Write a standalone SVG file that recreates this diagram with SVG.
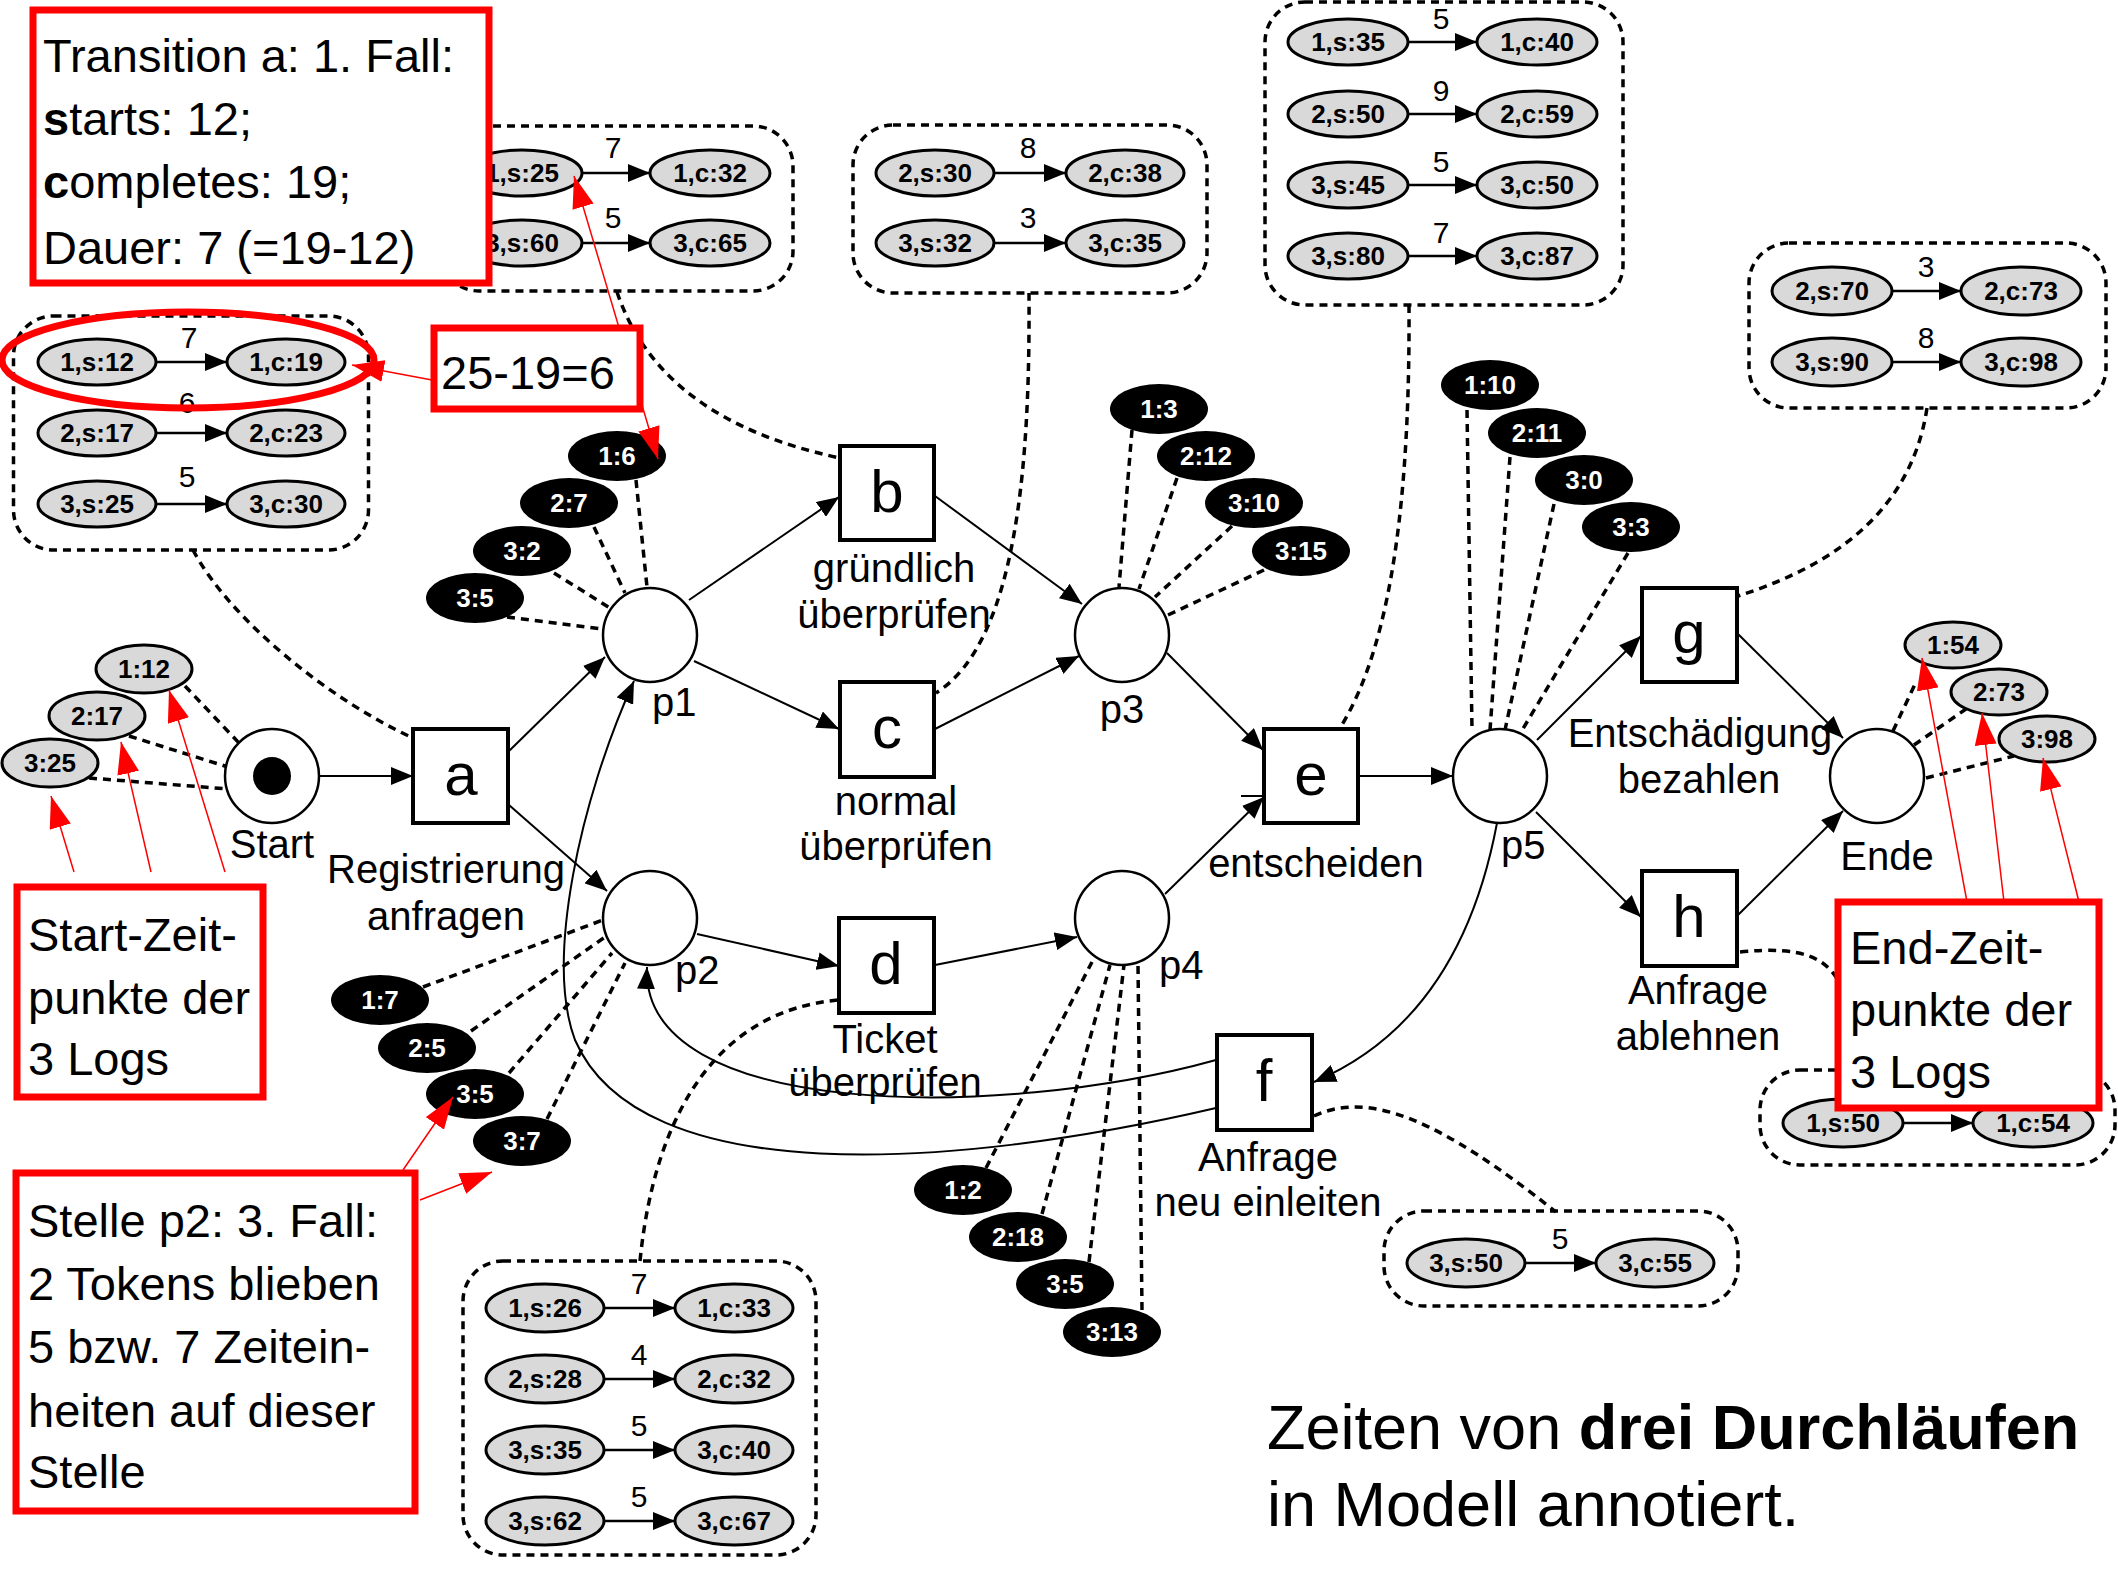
<svg xmlns="http://www.w3.org/2000/svg" width="2118" height="1587" viewBox="0 0 2118 1587">
  <defs>
    <marker id="ah" markerUnits="userSpaceOnUse" markerWidth="22" markerHeight="18" refX="22" refY="9" orient="auto">
      <path d="M0,0 L22,9 L0,18 z" fill="#000"/>
    </marker>
    <marker id="ahs" markerUnits="userSpaceOnUse" markerWidth="22" markerHeight="18" refX="22" refY="9" orient="auto">
      <path d="M0,0 L22,9 L0,18 z" fill="#000"/>
    </marker>
    <marker id="rah" markerUnits="userSpaceOnUse" markerWidth="32" markerHeight="22" refX="32" refY="11" orient="auto-start-reverse">
      <path d="M0,0 L32,11 L0,22 z" fill="#f00"/>
    </marker>
  </defs>
  <style>
    text { font-family: "Liberation Sans", Arial, sans-serif; }
    .arc { fill: none; stroke: #000; stroke-width: 2; marker-end: url(#ah); }
    .dl { fill: none; stroke: #000; stroke-width: 3.5; stroke-dasharray: 8 6; }
    .box { fill: none; stroke: #000; stroke-width: 3.5; stroke-dasharray: 8 6; }
    .tr { fill: #fff; stroke: #000; stroke-width: 4; }
    .pl { fill: #fff; stroke: #000; stroke-width: 2.5; }
    .ltr { font-size: 60px; text-anchor: middle; }
    .lbl { font-size: 40px; text-anchor: middle; }
    .lbs { font-size: 40px; }
    .ge { fill: #d9d9d9; stroke: #000; stroke-width: 3; }
    .gt { font-size: 26px; font-weight: bold; text-anchor: middle; fill: #000; }
    .be { fill: #000; }
    .bt { font-size: 26px; font-weight: bold; text-anchor: middle; fill: #fff; }
    .ia { stroke: #000; stroke-width: 2.5; marker-end: url(#ahs); }
    .num { font-size: 30px; text-anchor: middle; }
    .rbox { fill: #fff; stroke: #f00; stroke-width: 7; }
    .rl { fill: none; stroke: #f00; stroke-width: 1.5; marker-end: url(#rah); }
    .note { font-size: 47px; }
    .title { font-size: 63px; }
  </style>
  <rect width="2118" height="1587" fill="#fff"/>

  <!-- dashed links from log boxes and tokens to their nodes -->
  <g id="annotation-links">
    <path class="dl" d="M193,550 C230,620 330,700 413,738"/>
    <path class="dl" d="M617,292 Q660,420 840,458"/>
    <path class="dl" d="M1029,293 C1030,450 1020,640 936,693"/>
    <path class="dl" d="M1409,305 C1410,480 1395,640 1340,728"/>
    <path class="dl" d="M1927,408 C1910,520 1820,570 1738,596"/>
    <path class="dl" d="M1740,952 C1800,946 1835,955 1845,1000"/>
    <path class="dl" d="M1314,1116 C1370,1090 1440,1120 1556,1212"/>
    <path class="dl" d="M640,1261 C655,1110 720,1010 839,1000"/>
    <!-- token leaders -->
    <path class="dl" d="M185,686 L239,743 M129,736 L228,767 M89,778 L228,789"/>
    <path class="dl" d="M1893,731 L1916,682 M1914,745 L1966,709 M1926,778 L2014,756"/>
    <path class="dl" d="M636,480 L647,587 M594,527 L625,593 M554,573 L610,608 M507,617 L603,629"/>
    <path class="dl" d="M423,987 L603,920 M471,1031 L605,937 M509,1073 L612,953 M547,1119 L625,963"/>
    <path class="dl" d="M1132,430 L1119,587 M1177,478 L1139,589 M1232,526 L1155,597 M1264,570 L1168,615"/>
    <path class="dl" d="M986,1168 L1092,962 M1042,1214 L1110,965 M1089,1262 L1124,965 M1142,1310 L1138,965"/>
    <path class="dl" d="M1467,410 L1472,730 M1510,457 L1490,730 M1554,504 L1505,730 M1628,553 L1521,732"/>
  </g>

  <!-- arcs of the net -->
  <g id="connectors">
    <path class="arc" d="M319,776 L413,776"/>
    <path class="arc" d="M509,751 L605,657"/>
    <path class="arc" d="M509,805 L607,891"/>
    <path class="arc" d="M689,600 L839,497"/>
    <path class="arc" d="M694,661 L839,729"/>
    <path class="arc" d="M935,496 L1082,604"/>
    <path class="arc" d="M935,729 L1079,656"/>
    <path class="arc" d="M697,934 L839,966"/>
    <path class="arc" d="M935,965 L1077,937"/>
    <path class="arc" d="M1167,653 L1263,750"/>
    <path class="arc" d="M1165,894 L1264,797"/>
    <path d="M1241,796 L1263,796" stroke="#000" stroke-width="2"/>
    <path class="arc" d="M1359,776 L1453,776"/>
    <path class="arc" d="M1537,740 L1641,636"/>
    <path class="arc" d="M1536,812 L1641,917"/>
    <path class="arc" d="M1738,634 L1843,738"/>
    <path class="arc" d="M1738,915 L1843,811"/>
    <path class="arc" d="M1497,823 Q1460,1020 1314,1082"/>
    <path class="arc" d="M1216,1060 C1000,1120 640,1120 647,967"/>
    <path class="arc" d="M1216,1108 C950,1170 640,1190 575,1040 C545,960 580,800 634,681"/>
  </g>

  <!-- places -->
  <g id="Start"><circle class="pl" cx="272" cy="776" r="47"/><circle cx="272" cy="776" r="19" fill="#000"/><text class="lbl" x="272" y="858">Start</text></g>
  <g id="p1"><circle class="pl" cx="650" cy="635" r="47"/><text class="lbs" x="652" y="716">p1</text></g>
  <g id="p2"><circle class="pl" cx="650" cy="918" r="47"/><text class="lbs" x="675" y="984">p2</text></g>
  <g id="p3"><circle class="pl" cx="1122" cy="635" r="47"/><text class="lbl" x="1122" y="723">p3</text></g>
  <g id="p4"><circle class="pl" cx="1122" cy="918" r="47"/><text class="lbs" x="1159" y="979">p4</text></g>
  <g id="p5"><circle class="pl" cx="1500" cy="776" r="47"/><text class="lbs" x="1501" y="859">p5</text></g>
  <g id="Ende"><circle class="pl" cx="1877" cy="776" r="47"/><text class="lbl" x="1887" y="870">Ende</text></g>

  <!-- transitions -->
  <g id="a"><rect class="tr" x="413" y="729" width="95" height="94"/><text class="ltr" x="461" y="795">a</text>
    <text class="lbl" x="446" y="883">Registrierung</text><text class="lbl" x="446" y="930">anfragen</text></g>
  <g id="b"><rect class="tr" x="840" y="446" width="94" height="94"/><text class="ltr" x="887" y="512">b</text>
    <text class="lbl" x="894" y="582">gründlich</text><text class="lbl" x="894" y="628">überprüfen</text></g>
  <g id="c"><rect class="tr" x="840" y="682" width="94" height="95"/><text class="ltr" x="887" y="748">c</text>
    <text class="lbl" x="896" y="815">normal</text><text class="lbl" x="896" y="860">überprüfen</text></g>
  <g id="d"><rect class="tr" x="839" y="918" width="95" height="95"/><text class="ltr" x="886" y="984">d</text>
    <text class="lbl" x="885" y="1053">Ticket</text><text class="lbl" x="885" y="1096">überprüfen</text></g>
  <g id="e"><rect class="tr" x="1264" y="729" width="94" height="94"/><text class="ltr" x="1311" y="795">e</text>
    <text class="lbl" x="1316" y="877">entscheiden</text></g>
  <g id="f"><rect class="tr" x="1217" y="1035" width="95" height="95"/><text class="ltr" x="1264" y="1101">f</text>
    <text class="lbl" x="1268" y="1171">Anfrage</text><text class="lbl" x="1268" y="1216">neu einleiten</text></g>
  <g id="g"><rect class="tr" x="1642" y="588" width="95" height="94"/><text class="ltr" x="1689" y="653">g</text>
    <text class="lbl" x="1700" y="747">Entschädigung</text><text class="lbl" x="1699" y="793">bezahlen</text></g>
  <g id="h"><rect class="tr" x="1642" y="871" width="95" height="95"/><text class="ltr" x="1689" y="937">h</text>
    <text class="lbl" x="1698" y="1004">Anfrage</text><text class="lbl" x="1698" y="1050">ablehnen</text></g>

  <!-- start and end timestamps -->
  <g id="start-times">
    <ellipse class="ge" cx="144" cy="669" rx="48" ry="24"/><text class="gt" x="144" y="678">1:12</text>
    <ellipse class="ge" cx="97" cy="716" rx="48" ry="24"/><text class="gt" x="97" y="725">2:17</text>
    <ellipse class="ge" cx="50" cy="763" rx="48" ry="24"/><text class="gt" x="50" y="772">3:25</text>
  </g>
  <g id="end-times">
    <ellipse class="ge" cx="1953" cy="645" rx="48" ry="23"/><text class="gt" x="1953" y="654">1:54</text>
    <ellipse class="ge" cx="1999" cy="692" rx="48" ry="23"/><text class="gt" x="1999" y="701">2:73</text>
    <ellipse class="ge" cx="2047" cy="739" rx="48" ry="23"/><text class="gt" x="2047" y="748">3:98</text>
  </g>

  <!-- waiting times of tokens per place -->
  <g id="tokens-p1">
    <ellipse class="be" cx="617" cy="456" rx="49" ry="25"/><text class="bt" x="617" y="465">1:6</text>
    <ellipse class="be" cx="569" cy="503" rx="49" ry="25"/><text class="bt" x="569" y="512">2:7</text>
    <ellipse class="be" cx="522" cy="551" rx="49" ry="25"/><text class="bt" x="522" y="560">3:2</text>
    <ellipse class="be" cx="475" cy="598" rx="49" ry="25"/><text class="bt" x="475" y="607">3:5</text>
  </g>
  <g id="tokens-p2">
    <ellipse class="be" cx="380" cy="1000" rx="49" ry="25"/><text class="bt" x="380" y="1009">1:7</text>
    <ellipse class="be" cx="427" cy="1048" rx="49" ry="25"/><text class="bt" x="427" y="1057">2:5</text>
    <ellipse class="be" cx="475" cy="1094" rx="49" ry="25"/><text class="bt" x="475" y="1103">3:5</text>
    <ellipse class="be" cx="522" cy="1141" rx="49" ry="25"/><text class="bt" x="522" y="1150">3:7</text>
  </g>
  <g id="tokens-p3">
    <ellipse class="be" cx="1159" cy="409" rx="49" ry="25"/><text class="bt" x="1159" y="418">1:3</text>
    <ellipse class="be" cx="1206" cy="456" rx="49" ry="25"/><text class="bt" x="1206" y="465">2:12</text>
    <ellipse class="be" cx="1254" cy="503" rx="49" ry="25"/><text class="bt" x="1254" y="512">3:10</text>
    <ellipse class="be" cx="1301" cy="551" rx="49" ry="25"/><text class="bt" x="1301" y="560">3:15</text>
  </g>
  <g id="tokens-p4">
    <ellipse class="be" cx="963" cy="1190" rx="49" ry="25"/><text class="bt" x="963" y="1199">1:2</text>
    <ellipse class="be" cx="1018" cy="1237" rx="49" ry="25"/><text class="bt" x="1018" y="1246">2:18</text>
    <ellipse class="be" cx="1065" cy="1284" rx="49" ry="25"/><text class="bt" x="1065" y="1293">3:5</text>
    <ellipse class="be" cx="1112" cy="1332" rx="49" ry="25"/><text class="bt" x="1112" y="1341">3:13</text>
  </g>
  <g id="tokens-p5">
    <ellipse class="be" cx="1490" cy="385" rx="49" ry="25"/><text class="bt" x="1490" y="394">1:10</text>
    <ellipse class="be" cx="1537" cy="433" rx="49" ry="25"/><text class="bt" x="1537" y="442">2:11</text>
    <ellipse class="be" cx="1584" cy="480" rx="49" ry="25"/><text class="bt" x="1584" y="489">3:0</text>
    <ellipse class="be" cx="1631" cy="527" rx="49" ry="25"/><text class="bt" x="1631" y="536">3:3</text>
  </g>

  <!-- start/complete logs per transition -->
  <g id="log-a">
    <rect class="box" x="13.5" y="316" width="355" height="234" rx="40"/>
    <path class="ia" d="M156,362 L227,362"/>
    <path class="ia" d="M156,433 L227,433"/>
    <path class="ia" d="M156,504 L227,504"/>
    <ellipse class="ge" cx="97" cy="362" rx="59" ry="23"/><text class="gt" x="97" y="371">1,s:12</text>
    <ellipse class="ge" cx="286" cy="362" rx="59" ry="23"/><text class="gt" x="286" y="371">1,c:19</text>
    <text class="num" x="189" y="348">7</text>
    <ellipse class="ge" cx="97" cy="433" rx="59" ry="23"/><text class="gt" x="97" y="442">2,s:17</text>
    <ellipse class="ge" cx="286" cy="433" rx="59" ry="23"/><text class="gt" x="286" y="442">2,c:23</text>
    <text class="num" x="187" y="413">6</text>
    <ellipse class="ge" cx="97" cy="504" rx="59" ry="23"/><text class="gt" x="97" y="513">3,s:25</text>
    <ellipse class="ge" cx="286" cy="504" rx="59" ry="23"/><text class="gt" x="286" y="513">3,c:30</text>
    <text class="num" x="187" y="487">5</text>
  </g>
  <g id="log-b">
    <rect class="box" x="439" y="126" width="354" height="165" rx="40"/>
    <path class="ia" d="M582,173 L650,173"/>
    <path class="ia" d="M582,243 L650,243"/>
    <ellipse class="ge" cx="522" cy="173" rx="60" ry="23"/><text class="gt" x="522" y="182">1,s:25</text>
    <ellipse class="ge" cx="710" cy="173" rx="60" ry="23"/><text class="gt" x="710" y="182">1,c:32</text>
    <text class="num" x="613" y="158">7</text>
    <ellipse class="ge" cx="522" cy="243" rx="60" ry="23"/><text class="gt" x="522" y="252">3,s:60</text>
    <ellipse class="ge" cx="710" cy="243" rx="60" ry="23"/><text class="gt" x="710" y="252">3,c:65</text>
    <text class="num" x="613" y="228">5</text>
  </g>
  <g id="log-c">
    <rect class="box" x="853" y="125" width="354" height="168" rx="40"/>
    <path class="ia" d="M994,173 L1066,173"/>
    <path class="ia" d="M994,243 L1066,243"/>
    <ellipse class="ge" cx="935" cy="173" rx="59" ry="23"/><text class="gt" x="935" y="182">2,s:30</text>
    <ellipse class="ge" cx="1125" cy="173" rx="59" ry="23"/><text class="gt" x="1125" y="182">2,c:38</text>
    <text class="num" x="1028" y="158">8</text>
    <ellipse class="ge" cx="935" cy="243" rx="59" ry="23"/><text class="gt" x="935" y="252">3,s:32</text>
    <ellipse class="ge" cx="1125" cy="243" rx="59" ry="23"/><text class="gt" x="1125" y="252">3,c:35</text>
    <text class="num" x="1028" y="228">3</text>
  </g>
  <g id="log-e">
    <rect class="box" x="1265" y="2" width="358" height="303" rx="40"/>
    <path class="ia" d="M1408,42 L1477,42"/>
    <path class="ia" d="M1408,114 L1477,114"/>
    <path class="ia" d="M1408,185 L1477,185"/>
    <path class="ia" d="M1408,256 L1477,256"/>
    <ellipse class="ge" cx="1348" cy="42" rx="60" ry="23"/><text class="gt" x="1348" y="51">1,s:35</text>
    <ellipse class="ge" cx="1537" cy="42" rx="60" ry="23"/><text class="gt" x="1537" y="51">1,c:40</text>
    <text class="num" x="1441" y="29">5</text>
    <ellipse class="ge" cx="1348" cy="114" rx="60" ry="23"/><text class="gt" x="1348" y="123">2,s:50</text>
    <ellipse class="ge" cx="1537" cy="114" rx="60" ry="23"/><text class="gt" x="1537" y="123">2,c:59</text>
    <text class="num" x="1441" y="101">9</text>
    <ellipse class="ge" cx="1348" cy="185" rx="60" ry="23"/><text class="gt" x="1348" y="194">3,s:45</text>
    <ellipse class="ge" cx="1537" cy="185" rx="60" ry="23"/><text class="gt" x="1537" y="194">3,c:50</text>
    <text class="num" x="1441" y="172">5</text>
    <ellipse class="ge" cx="1348" cy="256" rx="60" ry="23"/><text class="gt" x="1348" y="265">3,s:80</text>
    <ellipse class="ge" cx="1537" cy="256" rx="60" ry="23"/><text class="gt" x="1537" y="265">3,c:87</text>
    <text class="num" x="1441" y="243">7</text>
  </g>
  <g id="log-g">
    <rect class="box" x="1749" y="243" width="357" height="165" rx="40"/>
    <path class="ia" d="M1892,291 L1961,291"/>
    <path class="ia" d="M1892,362 L1961,362"/>
    <ellipse class="ge" cx="1832" cy="291" rx="60" ry="24"/><text class="gt" x="1832" y="300">2,s:70</text>
    <ellipse class="ge" cx="2021" cy="291" rx="60" ry="24"/><text class="gt" x="2021" y="300">2,c:73</text>
    <text class="num" x="1926" y="277">3</text>
    <ellipse class="ge" cx="1832" cy="362" rx="60" ry="24"/><text class="gt" x="1832" y="371">3,s:90</text>
    <ellipse class="ge" cx="2021" cy="362" rx="60" ry="24"/><text class="gt" x="2021" y="371">3,c:98</text>
    <text class="num" x="1926" y="348">8</text>
  </g>
  <g id="log-h">
    <rect class="box" x="1760" y="1070" width="355" height="95" rx="40"/>
    <path class="ia" d="M1903,1123 L1973,1123"/>
    <ellipse class="ge" cx="1843" cy="1123" rx="60" ry="24"/><text class="gt" x="1843" y="1132">1,s:50</text>
    <ellipse class="ge" cx="2033" cy="1123" rx="60" ry="24"/><text class="gt" x="2033" y="1132">1,c:54</text>
  </g>
  <g id="log-f">
    <rect class="box" x="1384" y="1211" width="354" height="95" rx="40"/>
    <path class="ia" d="M1525,1263 L1596,1263"/>
    <ellipse class="ge" cx="1466" cy="1263" rx="59" ry="24"/><text class="gt" x="1466" y="1272">3,s:50</text>
    <ellipse class="ge" cx="1655" cy="1263" rx="59" ry="24"/><text class="gt" x="1655" y="1272">3,c:55</text>
    <text class="num" x="1560" y="1249">5</text>
  </g>
  <g id="log-d">
    <rect class="box" x="463" y="1261" width="353" height="294" rx="40"/>
    <path class="ia" d="M604,1308 L675,1308"/>
    <path class="ia" d="M604,1379 L675,1379"/>
    <path class="ia" d="M604,1450 L675,1450"/>
    <path class="ia" d="M604,1521 L675,1521"/>
    <ellipse class="ge" cx="545" cy="1308" rx="59" ry="24"/><text class="gt" x="545" y="1317">1,s:26</text>
    <ellipse class="ge" cx="734" cy="1308" rx="59" ry="24"/><text class="gt" x="734" y="1317">1,c:33</text>
    <text class="num" x="639" y="1294">7</text>
    <ellipse class="ge" cx="545" cy="1379" rx="59" ry="24"/><text class="gt" x="545" y="1388">2,s:28</text>
    <ellipse class="ge" cx="734" cy="1379" rx="59" ry="24"/><text class="gt" x="734" y="1388">2,c:32</text>
    <text class="num" x="639" y="1365">4</text>
    <ellipse class="ge" cx="545" cy="1450" rx="59" ry="24"/><text class="gt" x="545" y="1459">3,s:35</text>
    <ellipse class="ge" cx="734" cy="1450" rx="59" ry="24"/><text class="gt" x="734" y="1459">3,c:40</text>
    <text class="num" x="639" y="1436">5</text>
    <ellipse class="ge" cx="545" cy="1521" rx="59" ry="24"/><text class="gt" x="545" y="1530">3,s:62</text>
    <ellipse class="ge" cx="734" cy="1521" rx="59" ry="24"/><text class="gt" x="734" y="1530">3,c:67</text>
    <text class="num" x="639" y="1507">5</text>
  </g>

  <!-- red callouts -->
  <g id="callout-lines">
    <path class="rl" style="marker-start:url(#rah)" d="M574,176 L658,459"/>
    <path class="rl" d="M432,380 L352,365"/>
    <path class="rl" d="M74,872 L51,796"/>
    <path class="rl" d="M151,872 L121,742"/>
    <path class="rl" d="M225,872 L169,690"/>
    <path class="rl" d="M403,1170 L453,1097"/>
    <path class="rl" d="M420,1200 L492,1172"/>
    <path class="rl" d="M1967,902 L1922,658"/>
    <path class="rl" d="M2004,902 L1982,713"/>
    <path class="rl" d="M2079,902 L2043,758"/>
  </g>
  <ellipse id="highlight" cx="188" cy="360" rx="186" ry="48" fill="none" stroke="#f00" stroke-width="7"/>
  <g id="note-transition-a">
    <rect class="rbox" x="33" y="10" width="456" height="273"/>
    <text class="note" x="43" y="72">Transition a: 1. Fall:</text>
    <text class="note" x="43" y="135"><tspan font-weight="bold">s</tspan>tarts: 12;</text>
    <text class="note" x="43" y="198"><tspan font-weight="bold">c</tspan>ompletes: 19;</text>
    <text class="note" x="43" y="264">Dauer: 7 (=19-12)</text>
  </g>
  <g id="note-diff">
    <rect class="rbox" x="434" y="328" width="206" height="81"/>
    <text class="note" x="441" y="389">25-19=6</text>
  </g>
  <g id="note-start">
    <rect class="rbox" x="17" y="887" width="246" height="210"/>
    <text class="note" x="28" y="951">Start-Zeit-</text>
    <text class="note" x="28" y="1014">punkte der</text>
    <text class="note" x="28" y="1075">3 Logs</text>
  </g>
  <g id="note-p2">
    <rect class="rbox" x="16" y="1173" width="399" height="338"/>
    <text class="note" x="28" y="1237">Stelle p2: 3. Fall:</text>
    <text class="note" x="28" y="1300">2 Tokens blieben</text>
    <text class="note" x="28" y="1363">5 bzw. 7 Zeitein-</text>
    <text class="note" x="28" y="1427">heiten auf dieser</text>
    <text class="note" x="28" y="1488">Stelle</text>
  </g>
  <g id="note-end">
    <rect class="rbox" x="1838" y="902" width="261" height="206"/>
    <text class="note" x="1850" y="964">End-Zeit-</text>
    <text class="note" x="1850" y="1026">punkte der</text>
    <text class="note" x="1850" y="1088">3 Logs</text>
  </g>

  <g id="caption">
    <text class="title" x="1267" y="1449">Zeiten von <tspan font-weight="bold">drei Durchläufen</tspan></text>
    <text class="title" x="1267" y="1526">in Modell annotiert.</text>
  </g>
</svg>
